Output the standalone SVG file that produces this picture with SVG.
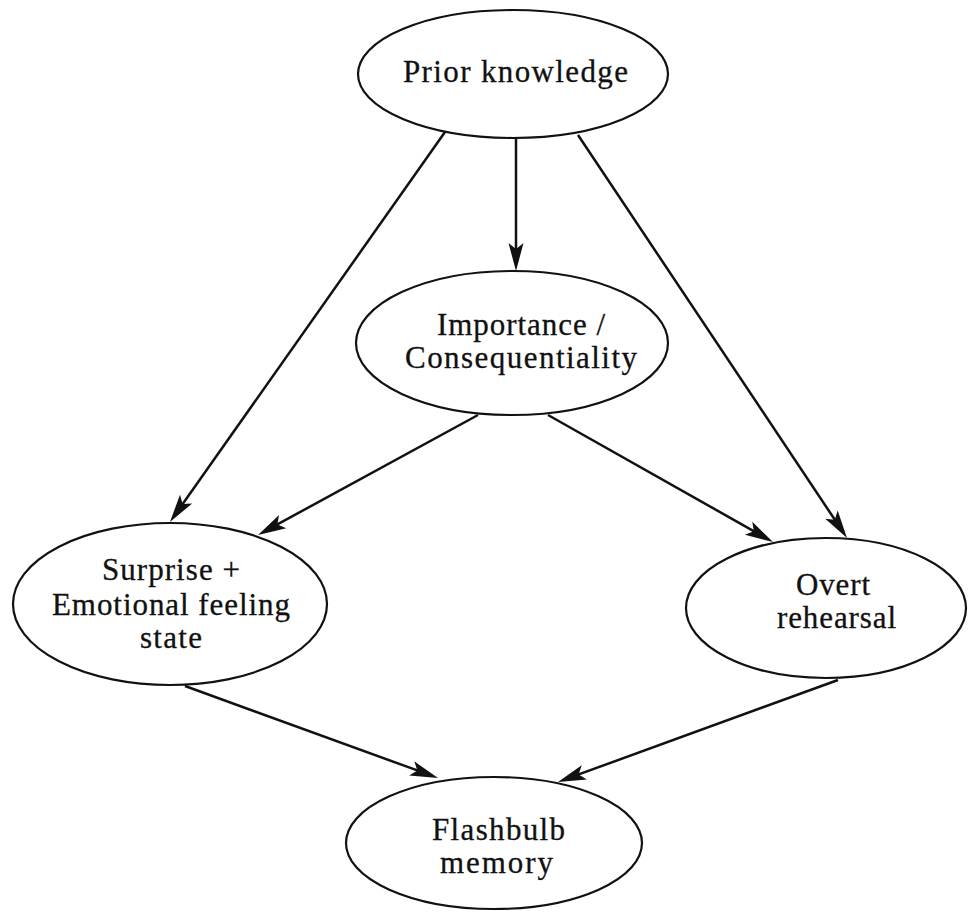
<svg xmlns="http://www.w3.org/2000/svg" width="968" height="913" viewBox="0 0 968 913">
  <style>
    .node ellipse { fill: #ffffff; stroke: #111111; stroke-width: 2.2; }
    .node text { font-family: "Liberation Serif", "Times New Roman", serif; font-size: 31px; fill: #111111; stroke: #111111; stroke-width: 0.3; }
    .edges line { stroke: #111111; stroke-width: 2.5; marker-end: url(#head); }
  </style>
  <defs>
    <!-- slim filled arrowhead with a shallow notch; tip sits 11px past the line end -->
    <marker id="head" markerUnits="userSpaceOnUse" markerWidth="32" markerHeight="18" viewBox="0 -9 30 18" refX="17" refY="0" orient="auto">
      <path d="M0,-7.5 L28,0 L0,7.5 L6,0 Z" fill="#111111"/>
    </marker>
  </defs>
  <rect width="968" height="913" fill="#ffffff"/>

  <g id="prior-knowledge" class="node">
    <ellipse cx="513" cy="74" rx="155" ry="64"/>
    <text x="403" y="82" textLength="225" lengthAdjust="spacing">Prior knowledge</text>
  </g>

  <g id="importance" class="node">
    <ellipse cx="512" cy="343" rx="156" ry="72"/>
    <text x="437" y="335" textLength="168" lengthAdjust="spacing">Importance /</text>
    <text x="405" y="368" textLength="232" lengthAdjust="spacing">Consequentiality</text>
  </g>

  <g id="surprise" class="node">
    <ellipse cx="170" cy="604" rx="157" ry="81"/>
    <text x="102" y="580" textLength="138" lengthAdjust="spacing">Surprise +</text>
    <text x="52" y="615" textLength="238" lengthAdjust="spacing">Emotional feeling</text>
    <text x="140" y="648" textLength="62" lengthAdjust="spacing">state</text>
  </g>

  <g id="overt-rehearsal" class="node">
    <ellipse cx="826" cy="608" rx="140" ry="70"/>
    <text x="796" y="595" textLength="74" lengthAdjust="spacing">Overt</text>
    <text x="777" y="628" textLength="119" lengthAdjust="spacing">rehearsal</text>
  </g>

  <g id="flashbulb-memory" class="node">
    <ellipse cx="494" cy="843" rx="148" ry="66"/>
    <text x="432" y="840" textLength="133" lengthAdjust="spacing">Flashbulb</text>
    <text x="440" y="873" textLength="113" lengthAdjust="spacing">memory</text>
  </g>

  <g id="connectors" class="edges">
    <line x1="445" y1="132" x2="176.3" y2="513.0"/>
    <line x1="516" y1="138" x2="516" y2="260"/>
    <line x1="578" y1="135" x2="840.9" y2="528.8"/>
    <line x1="478" y1="415" x2="267.7" y2="529.7"/>
    <line x1="548" y1="415" x2="763.4" y2="536.6"/>
    <line x1="185" y1="686" x2="427.7" y2="774.2"/>
    <line x1="838" y1="680" x2="568.3" y2="778.2"/>
  </g>
</svg>
